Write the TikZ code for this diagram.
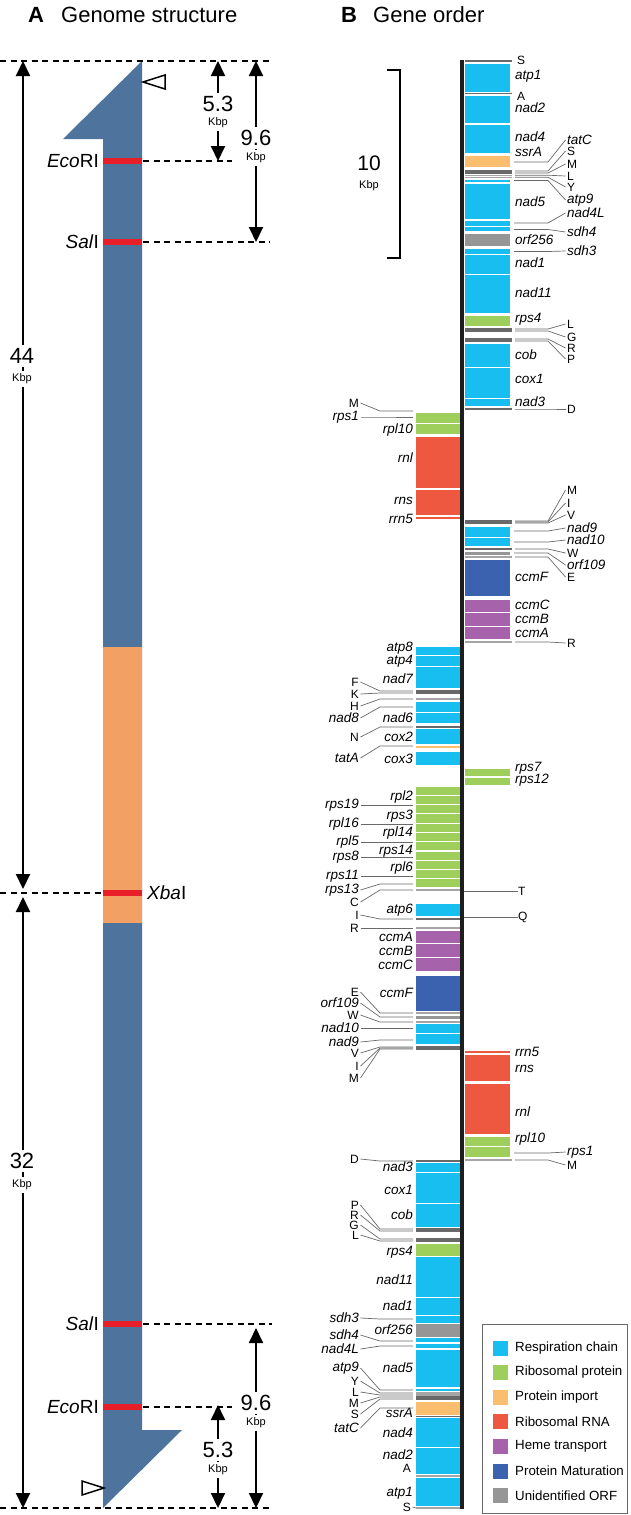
\documentclass[tikz,border=0pt]{standalone}
\usepackage{fontspec}
\setmainfont{Liberation Sans}
\usetikzlibrary{arrows.meta}
\definecolor{resp}{RGB}{24,190,240}
\definecolor{ribp}{RGB}{158,207,92}
\definecolor{imp}{RGB}{250,190,110}
\definecolor{rrna}{RGB}{238,88,64}
\definecolor{heme}{RGB}{166,98,170}
\definecolor{mat}{RGB}{58,98,174}
\definecolor{orf}{RGB}{150,150,150}
\definecolor{gbar}{RGB}{78,116,158}
\definecolor{gorange}{RGB}{242,160,99}
\definecolor{cutred}{RGB}{232,30,40}
\definecolor{dk}{RGB}{105,105,105}
\definecolor{lt}{RGB}{165,165,165}
\definecolor{axisblack}{RGB}{30,30,30}
\begin{document}
\begin{tikzpicture}[x=1pt,y=-1pt,
 glab/.style={font=\fontsize{13.5}{14}\selectfont\itshape, inner sep=0pt},
 tlab/.style={font=\fontsize{12}{13}\selectfont, inner sep=0pt},
 lead/.style={draw=dk, line width=0.7pt},
 dim/.style={line width=2pt, {Triangle[length=15pt,width=14pt]}-{Triangle[length=15pt,width=14pt]}},
 dsh/.style={line width=1.5pt, dash pattern=on 6pt off 4.5pt},
 big/.style={font=\fontsize{22}{23}\selectfont, fill=white, inner xsep=2pt, inner ysep=3pt},
 kbp/.style={font=\fontsize{11}{12}\selectfont, fill=white, inner xsep=2pt, inner ysep=3pt},
 enz/.style={font=\fontsize{19}{20}\selectfont, inner sep=0pt},
 ttl/.style={font=\fontsize{22}{24}\selectfont, inner sep=0pt, anchor=west},
 trna/.style={line width=1.3pt}
]
\useasboundingbox (0,0) rectangle (631,1515);
\fill[white] (0,0) rectangle (631,1515);

% ---------------- Panel A ----------------
\node[ttl,font=\fontsize{22}{24}\selectfont\bfseries] (tA) at (28,15) {A};
\node[ttl] (tAt) at (61,15) {Genome structure};

\fill[gbar] (142,61) -- (63,139) -- (103,139) -- (103,1508) -- (182,1430) -- (142,1430) -- cycle;
\fill[gorange] (103,647) rectangle (142,923);
\foreach \y in {161,242,893,1324,1407} \fill[cutred] (103,\y-2.8) rectangle (142,\y+2.8);

\draw[dsh] (0,61) -- (270,61);
\draw[dsh] (143,161) -- (232,161);
\draw[dsh] (143,242) -- (270,242);
\draw[dsh] (0,893) -- (103,893);
\draw[dsh] (143,1324) -- (272,1324);
\draw[dsh] (143,1407) -- (232,1407);
\draw[dsh] (0,1508) -- (270,1508);

\draw[dim] (23,61) -- (23,889);
\draw[dim] (23,897) -- (23,1508);
\draw[dim] (218,61) -- (218,161);
\draw[dim] (256,61) -- (256,242);
\draw[dim] (256,1328) -- (256,1508);
\draw[dim] (218,1405) -- (218,1508);

\node[big] (n44) at (22,356) {44};
\node[kbp] (k44) at (22,379) {Kbp};
\node[big] (n32) at (22,1161) {32};
\node[kbp] (k32) at (22,1185) {Kbp};
\node[big] (n53a) at (218,104) {5.3};
\node[kbp] (k53a) at (218,123) {Kbp};
\node[big] (n96a) at (256,138) {9.6};
\node[kbp] (k96a) at (256,158) {Kbp};
\node[big] (n96b) at (256,1403) {9.6};
\node[kbp] (k96b) at (256,1423) {Kbp};
\node[big] (n53b) at (218,1450) {5.3};
\node[kbp] (k53b) at (218,1470) {Kbp};

\draw[line width=1.5pt, fill=white] (143,82) -- (165,75) -- (165,89) -- cycle;
\draw[line width=1.5pt, fill=white] (104,1488) -- (82,1481) -- (82,1495) -- cycle;

\node[enz,anchor=east] (eco1) at (99,161) {\textit{Eco}RI};
\node[enz,anchor=east] (sal1) at (99,242) {\textit{Sal}I};
\node[enz,anchor=west] (xba) at (147,893) {\textit{Xba}I};
\node[enz,anchor=east] (sal2) at (99,1324) {\textit{Sal}I};
\node[enz,anchor=east] (eco2) at (99,1407) {\textit{Eco}RI};

% ---------------- Panel B ----------------
\node[ttl,font=\fontsize{22}{24}\selectfont\bfseries] (tB) at (341,15) {B};
\node[ttl] (tBt) at (373,15) {Gene order};

% scale bar
\draw[line width=1.5pt] (387,70) -- (400,70) -- (400,258) -- (387,258);
\node[font=\fontsize{21}{22}\selectfont, inner sep=0pt] (s10) at (369,163) {10};
\node[font=\fontsize{11}{12}\selectfont, inner sep=0pt] (s10k) at (369,186) {Kbp};

% right-hand blocks
\foreach \ya/\yb/\cl in {63/93/resp, 95/124/resp, 124/154/resp, 155/168/imp, 179/182.5/resp, 183/220/resp,
  220/226.5/resp, 226.5/232/resp, 233/247/orf, 248/254.5/resp, 254.5/274.5/resp, 274.5/314/resp, 315/327/ribp,
  343/367.5/resp, 367.5/398.5/resp, 398.5/407/resp, 526/537.5/resp, 537.5/547/resp, 551/555.5/orf,
  559/597/mat, 599/612.5/heme, 612.5/626.5/heme, 626.5/640/heme, 768/777/ribp, 777/786/ribp,
  1050.5/1053.5/rrna, 1054/1082/rrna, 1083/1135/rrna, 1136.5/1146.5/ribp, 1146.5/1158/ribp}
  \fill[fill=\cl] (465,\ya+0.6) rectangle (510,\yb-0.6);

% left-hand blocks
\foreach \ya/\yb/\cl in {412/423.5/ribp, 423.5/435/ribp, 436.5/488.5/rrna, 489.5/515.5/rrna, 516.5/519.8/rrna,
  646/655.5/resp, 655.5/666.5/resp, 666.5/689/resp, 701.5/712.5/resp, 712.5/724/resp, 728.5/744.5/resp,
  745/748.2/imp, 751/766/resp, 903/917/resp, 930/943.5/heme, 943.5/957.5/heme, 957.5/972/heme,
  975/1012/mat, 1015/1019.5/orf, 1023/1033.5/resp, 1033.5/1045/resp, 1162.5/1172.5/resp,
  1172.5/1203.5/resp, 1203.5/1227.5/resp, 1243/1256.5/ribp, 1256.5/1297.5/resp, 1297.5/1315.5/resp,
  1315.5/1323.5/resp, 1323.5/1337.5/orf, 1337.5/1343/resp, 1343/1349/resp, 1349/1388/resp,
  1388.5/1392/resp, 1401.5/1415.5/imp, 1417.5/1447.5/resp, 1447.5/1474.5/resp, 1477.5/1507/resp}
  \fill[fill=\cl] (416,\ya+0.6) rectangle (460,\yb-0.6);
\foreach \k in {0,...,10}
  \fill[ribp] (416,{786+\k*9.2727+0.6}) rectangle (460,{786+(\k+1)*9.2727-0.6});

% tRNA lines, right
\foreach \y/\cl in {61/dk, 93.8/dk, 171/dk, 173/dk, 175.2/lt, 177.2/lt, 329/dk, 331/dk, 339/dk, 341/dk,
  409/dk, 521/dk, 523/dk, 549/dk, 557/lt, 642/lt, 1160/lt}
  \draw[trna, draw=\cl] (465,\y) -- (512,\y);
% tRNA lines, left
\foreach \y/\cl in {691/dk, 693/dk, 699/lt, 727/dk, 890/lt, 919/dk, 928/lt, 1013/lt, 1022/lt, 1047/dk, 1049/dk,
  1161/dk, 1229/dk, 1231/dk, 1239/dk, 1241/dk, 1393/lt, 1395/lt, 1397/dk, 1399/dk, 1416.6/dk, 1476/lt, 1508/lt}
  \draw[trna, draw=\cl] (416,\y) -- (460,\y);

% axis
\draw[axisblack, line width=4pt] (462,60) -- (462,1509);

% labels inside, right column
\foreach \nm/\y [count=\i] in {atp1/76, nad2/108, nad4/137, ssrA/152, nad5/202, orf256/240, nad1/263, nad11/293,
  rps4/319, cob/355, cox1/379, nad3/402, ccmF/577, ccmC/605, ccmB/619, ccmA/633, rps7/768, rps12/780,
  rrn5/1052, rns/1069, rnl/1112, rpl10/1139}
  \node[glab, anchor=west] (ri\i) at (515,\y) {\nm};
\node[tlab, anchor=west] (riS) at (517,60) {S};
\node[tlab, anchor=west] (riA) at (517,96) {A};

% T and Q
\node[tlab, anchor=west] (rT) at (518,891) {T};
\node[tlab, anchor=west] (rQ) at (518,917) {Q};
\draw[lead] (464,891) -- (rT.west);
\draw[lead] (464,917) -- (rQ.west);

% labels inside, left column
\foreach \nm/\y [count=\i] in {rpl10/430, rnl/458, rns/501, rrn5/519, atp8/648, atp4/661, nad7/679, nad6/718,
  cox2/737, cox3/759, rpl2/797, rps3/816, rpl14/833, rps14/851, rpl6/868, atp6/910, ccmA/937, ccmB/951,
  ccmC/965, ccmF/993, nad3/1167, cox1/1190, cob/1215, rps4/1252, nad11/1280, nad1/1306, orf256/1330,
  nad5/1368, ssrA/1413, nad4/1433, nad2/1455, atp1/1493}
  \node[glab, anchor=east] (li\i) at (413,\y) {\nm};
\node[tlab, anchor=east] (liA) at (411,1468) {A};
\node[tlab, anchor=east] (liS) at (411,1507) {S};

% outer labels, right
\foreach \nm/\yl/\yt [count=\i] in {tatC/162/140, atp9/180.5/200, nad4L/223/213, sdh4/229.5/232, sdh3/251.5/251,
  nad9/531/528, nad10/542/540, orf109/553/565, rps1/1153/1152}
  {\node[glab, anchor=west] (rog\i) at (567,\yt) {\nm};
   \draw[lead] (514,\yl) -- (548,\yl) -- ([xshift=-1.5pt]rog\i.west);}
\foreach \nm/\yl/\yt [count=\i] in {S/171/151, M/173/164, L/175.2/176, Y/177.2/187, L/329/324, G/331/337,
  R/339/348, P/341/359, D/409/409, M/521/490, I/522/503, V/523/515, W/549/553, E/557/577, R/642/643, M/1160/1165}
  {\node[tlab, anchor=west] (rot\i) at (567,\yt) {\nm};
   \draw[lead] (515,\yl) -- (548,\yl) -- ([xshift=-1.5pt]rot\i.west);}

% outer labels, left
\foreach \nm/\yl/\yt [count=\i] in {rps1/417/417, nad8/707/718, tatA/746/758, rps19/805/805, rpl16/824/824,
  rpl5/842/842, rps8/857/857, rps11/876/876, rps13/884/890, orf109/1017/1003, nad10/1028/1028, nad9/1040/1042,
  sdh3/1319/1318, sdh4/1341/1335, nad4L/1346/1349, atp9/1390/1368, tatC/1408/1428}
  {\node[glab, anchor=east] (log\i) at (359,\yt) {\nm};
   \draw[lead] ([xshift=1.5pt]log\i.east) -- (380,\yl) -- (413,\yl);}
\foreach \nm/\yl/\yt [count=\i] in {M/411/403, F/691/682, K/693/694, H/699/706, N/727/737, C/890/902, I/919/915,
  R/928/928, E/1013/992, W/1022/1015, V/1047/1053, I/1048/1066, M/1049/1078, D/1161/1159, P/1229/1205,
  R/1231/1215, G/1239/1225, L/1241/1235, Y/1393/1381, L/1395/1392, M/1397/1403, S/1399/1414}
  {\node[tlab, anchor=east] (lot\i) at (359,\yt) {\nm};
   \draw[lead] ([xshift=1.5pt]lot\i.east) -- (380,\yl) -- (413,\yl);}
\draw[lead] ([xshift=1.5pt]liS.east) -- (416,1508);

% legend
\draw[dk, line width=1pt] (482,1324) rectangle (627,1513);
\foreach \cl/\txt/\y [count=\i] in {resp/Respiration chain/1348, ribp/Ribosomal protein/1372.5,
  imp/Protein import/1397, rrna/Ribosomal RNA/1421.5, heme/Heme transport/1446,
  mat/Protein Maturation/1471, orf/Unidentified ORF/1495.5}
  {\fill[fill=\cl] (493,\y-7.5) rectangle (508,\y+7.5);
   \node[anchor=west, inner sep=0pt, font=\fontsize{13.3}{14}\selectfont] (lg\i) at (515,\y) {\txt};}
\end{tikzpicture}
\end{document}
